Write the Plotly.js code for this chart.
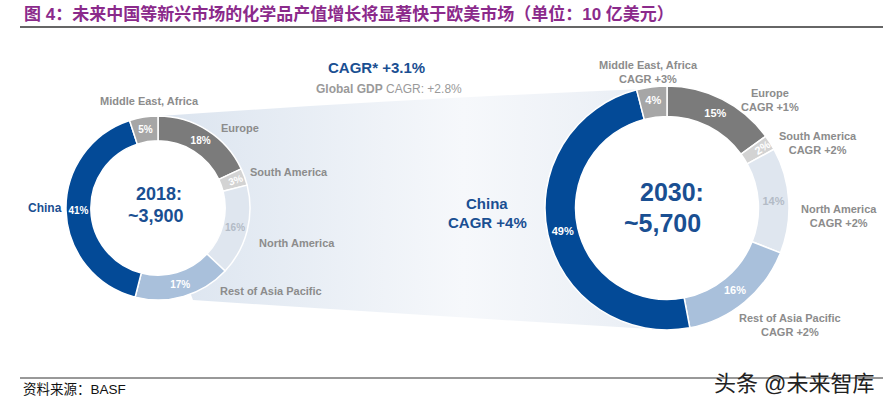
<!DOCTYPE html>
<html>
<head>
<meta charset="utf-8">
<script src="https://cdn.plot.ly/plotly-3.0.1.min.js"></script>
<style>html,body{margin:0;padding:0;background:#fff;}#chart{width:883px;height:410px;}</style>
</head>
<body>
<div id="chart"></div>
<script>
// ---- data ----
const regions = ['Europe', 'South America', 'North America', 'Rest of Asia Pacific', 'China', 'Middle East, Africa'];
const share2018 = [18, 3, 16, 17, 41, 5];
const share2030 = [15, 2, 14, 16, 49, 4];
const cagr2030 = ['+1%', '+2%', '+2%', '+2%', '+4%', '+3%'];
const yearLabels = ['2018:', '2030:'];
const totals = ['~3,900', '~5,700'];
const globalCagr = 'CAGR* +3.1%';
const gdpCagr = '+2.8%';
const titleText = '图 4：未来中国等新兴市场的化学品产值增长将显著快于欧美市场（单位：10 亿美元）';
const sourceText = '资料来源：BASF';
const watermark = '头条 @未来智库';

// ---- styling ----
const W = 883, H = 410;
const fx = x => x / W, fy = y => 1 - y / H;
const sliceColors = ['#7b7b7b', '#d3d3d3', '#dfe6ef', '#a9c0db', '#034a97', '#a6a6a6'];
const textColors = ['#ffffff', '#ffffff', '#b3bbc6', '#ffffff', '#ffffff', '#ffffff'];
const FONT = '"Liberation Sans", Arial, "Noto Sans CJK SC", sans-serif';
const BLUE = '#1a4f92', GREY = '#8c8c8c';

const L = {cx: 158, cy: 208, r: 92, hole: 0.73};
const R = {cx: 667, cy: 208, r: 122, hole: 0.75};

function pie(d, values, fs) {
  return {
    type: 'pie', values: values, labels: regions, sort: false, direction: 'clockwise', rotation: 0,
    hole: d.hole,
    domain: {x: [fx(d.cx - d.r), fx(d.cx + d.r)], y: [fy(d.cy + d.r), fy(d.cy - d.r)]},
    marker: {colors: sliceColors, line: {color: '#ffffff', width: 1.5}},
    texttemplate: '<b>%{value}%</b>', textposition: 'inside', insidetextorientation: 'auto',
    insidetextfont: {family: FONT, size: fs, color: textColors},
    hoverinfo: 'skip', showlegend: false
  };
}

// funnel background (decorative) as svg image
const svg = `<svg xmlns="http://www.w3.org/2000/svg" width="${W}" height="${H}" viewBox="0 0 ${W} ${H}">
<defs><linearGradient id="g" x1="0" y1="0" x2="1" y2="0">
<stop offset="0" stop-color="#dbe4ef"/><stop offset="0.6" stop-color="#f6f8fb"/><stop offset="1" stop-color="#e8edf4"/>
</linearGradient></defs>
<path d="M160,116 Q400,99 ${R.cx},88 L${R.cx},330 Q400,314 193,300 L${L.cx},${L.cy} Z" fill="url(#g)"/>
<circle cx="${L.cx}" cy="${L.cy}" r="${L.r - 3}" fill="#ffffff"/>
<circle cx="${R.cx}" cy="${R.cy}" r="${R.r - 3}" fill="#ffffff"/>
</svg>`;

function ann(x, y, text, size, color, extra) {
  return Object.assign({xref: 'paper', yref: 'paper', x: fx(x), y: fy(y), text: text, showarrow: false,
    xanchor: 'center', yanchor: 'middle', font: {family: FONT, size: size, color: color}}, extra || {});
}

const annotations = [
  ann(22, 14, '<b>' + titleText + '</b>', 17, '#8b2a8b', {xanchor: 'left'}),
  // left donut
  ann(149, 101, '<b>' + regions[5] + '</b>', 11, GREY),
  ann(240, 128, '<b>' + regions[0] + '</b>', 11, GREY),
  ann(289, 172, '<b>' + regions[1] + '</b>', 11, GREY),
  ann(297, 243, '<b>' + regions[2] + '</b>', 11, GREY),
  ann(271, 291, '<b>' + regions[3] + '</b>', 11, GREY),
  ann(45, 208, '<b>' + regions[4] + '</b>', 12, BLUE),
  ann(159, 194, '<b>' + yearLabels[0] + '</b>', 18, BLUE),
  ann(156, 216, '<b>' + totals[0] + '</b>', 18, BLUE),
  // middle
  ann(376, 67, '<b>' + globalCagr + '</b>', 15, BLUE),
  ann(389, 89, '<b>Global GDP</b> CAGR: ' + gdpCagr, 12, '#9a9a9a'),
  ann(487, 203, '<b>' + regions[4] + '</b>', 15, BLUE),
  ann(487, 222, '<b>CAGR ' + cagr2030[4] + '</b>', 15, BLUE),
  // right donut
  ann(672, 192, '<b>' + yearLabels[1] + '</b>', 25, BLUE),
  ann(662, 223, '<b>' + totals[1] + '</b>', 25, BLUE),
  ann(648, 72, '<b>' + regions[5] + '<br>CAGR ' + cagr2030[5] + '</b>', 11, GREY),
  ann(770, 100, '<b>' + regions[0] + '<br>CAGR ' + cagr2030[0] + '</b>', 11, GREY),
  ann(818, 143, '<b>' + regions[1] + '<br>CAGR ' + cagr2030[1] + '</b>', 11, GREY),
  ann(839, 216, '<b>' + regions[2] + '<br>CAGR ' + cagr2030[2] + '</b>', 11, GREY),
  ann(790, 325, '<b>' + regions[3] + '<br>CAGR ' + cagr2030[3] + '</b>', 11, GREY),
  // footer
  ann(21, 389, sourceText, 13.5, '#111111', {xanchor: 'left'}),
  ann(876, 383, watermark, 22, '#222222', {xanchor: 'right'})
];

const layout = {
  width: W, height: H, margin: {l: 0, r: 0, t: 0, b: 0},
  paper_bgcolor: '#ffffff', plot_bgcolor: '#ffffff',
  showlegend: false,
  images: [{source: 'data:image/svg+xml;charset=utf-8,' + encodeURIComponent(svg),
    xref: 'paper', yref: 'paper', x: 0, y: 1, sizex: 1, sizey: 1, sizing: 'stretch',
    xanchor: 'left', yanchor: 'top', layer: 'below'}],
  shapes: [
    {type: 'line', xref: 'paper', yref: 'paper', x0: fx(20), x1: fx(883), y0: fy(27), y1: fy(27), line: {color: '#333333', width: 1.5}},
    {type: 'line', xref: 'paper', yref: 'paper', x0: fx(20), x1: fx(883), y0: fy(378), y1: fy(378), line: {color: '#333333', width: 1}}
  ],
  annotations: annotations
};

Plotly.newPlot('chart', [pie(L, share2018, 10), pie(R, share2030, 11)], layout, {displayModeBar: false, staticPlot: true});
</script>
</body>
</html>
